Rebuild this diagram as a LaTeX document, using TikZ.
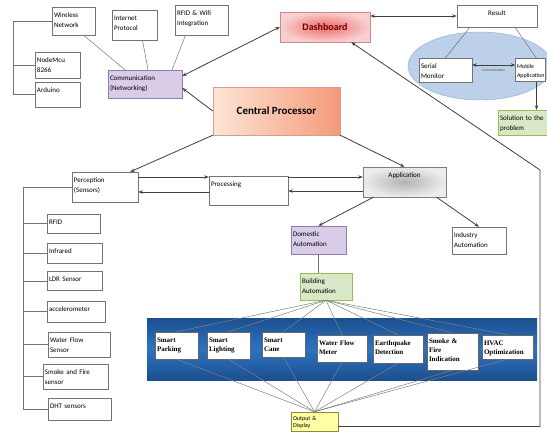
\documentclass[tikz,border=0pt]{standalone}
\usepackage{fontspec}
\setmainfont{Carlito}
\newfontfamily\tilefont{Liberation Serif}
\usetikzlibrary{arrows.meta,calc}
\definecolor{npurple}{HTML}{D9CCE9}
\definecolor{npurpleB}{HTML}{8E7CB0}
\definecolor{ngreen}{HTML}{D7E9C6}
\definecolor{ngreenB}{HTML}{9BBB59}
\definecolor{npink}{HTML}{F9CFCF}
\definecolor{nred}{HTML}{EE6A6A}
\definecolor{nredB}{HTML}{C98A8A}
\definecolor{ncpuA}{HTML}{FDE5D6}
\definecolor{ncpuB}{HTML}{F59A7A}
\definecolor{ncpuC}{HTML}{D0A090}
\definecolor{nellipse}{HTML}{BCD0EA}
\definecolor{nellipseB}{HTML}{8CA8D4}
\definecolor{nyellow}{HTML}{FFFFA6}
\definecolor{nyellowB}{HTML}{8A8A3A}
\definecolor{bandA}{HTML}{1C4F8E}
\definecolor{bandB}{HTML}{2D73C2}

\begin{document}
\begin{tikzpicture}[x=1pt,y=-1pt,
  box/.style={draw=black!55, fill=white, inner sep=2pt, align=left, font=\fontsize{7}{10}\selectfont},
  sz/.style 2 args={text width=#1pt-4pt, text height=8pt, text depth=#2pt-12pt},
  tile/.style={box, draw=black!60, font=\tilefont\bfseries\fontsize{7}{9}\selectfont},
  bigbox/.style={draw=#1, inner sep=2pt, align=center},
  arr/.style={draw=black!75, line width=0.8pt, -{Stealth[length=1.6mm]}},
  twoarr/.style={arr, {Stealth[length=1.6mm]}-{Stealth[length=1.6mm]}},
  link/.style={draw=black!55, line width=0.5pt},
  fan/.style={draw=black!50, line width=0.5pt}]
 \useasboundingbox (0,0) rectangle (547,432);
 \clip (0,0) rectangle (547,432);
 \fill[white] (0,0) rectangle (547,432);

 % networking
 \node[box, sz={43}{28}] (wnet) at (73.5,21) {Wireless\\Network};
 \node[box, sz={45}{30}] (ip) at (134.5,25) {Internet\\Protocol};
 \node[box, sz={53}{30}] (rfw) at (201.5,20) {RFID \& Wifi\\Integration};
 \node[box, sz={45}{26}] (mcu) at (57.5,65) {NodeMcu\\8266};
 \node[box, sz={45}{25}] (ard) at (57.5,94.5) {Arduino};
 \node[box, sz={74}{28}, fill=npurple, draw=npurpleB] (comm) at (145,84) {Communication\\(Networking)};
 \coordinate (lbus) at (13,0);
 \draw[link] (wnet.west) -- (wnet.west -| lbus) -- (ard.west -| lbus) -- (ard.west);
 \draw[link] (mcu.west) -- (mcu.west -| lbus);
 \draw[link] ([xshift=10pt]wnet.south) -- ([xshift=-20pt]comm.north);
 \draw[link] ([xshift=8pt]ip.south) -- ([xshift=3pt]comm.north);
 \draw[link] ([xshift=-16pt]rfw.south) -- ([xshift=27pt]comm.north);

 % dashboard and result
 \node[bigbox=nredB, inner color=nred, outer color=npink, minimum width=90pt, minimum height=30pt,
   font=\bfseries\fontsize{10}{12}\selectfont, text=red!45!black] (dash) at (325,27) {Dashboard};
 \node[box, sz={80}{22}, align=center] (res) at (497,16) {Result};
 \fill[nellipse, draw=nellipseB] (480,66) ellipse [x radius=72, y radius=34];
 \node[box, sz={53}{24}] (ser) at (445.5,70) {Serial\\Monitor};
 \node[box, sz={31}{24}, inner sep=1.5pt, font=\fontsize{6}{9}\selectfont] (mob) at (530.5,70) {Mobile\\Application};
 \node[box, sz={62}{25}, fill=ngreen, draw=ngreenB] (sol) at (529,122.5) {Solution to the\\problem};
 \draw[twoarr] (res.west -| dash.east) -- (res.west);
 \draw[link] ([xshift=-27pt]res.south) -- (ser.north);
 \draw[link] ([xshift=18pt]res.south) -- ([xshift=6pt]mob.north);
 \draw[twoarr, line width=0.6pt] ([yshift=5pt]ser.east) -- ([yshift=5pt]mob.west)
   node[midway, below, font=\fontsize{3.5}{4}\selectfont, text=black!70] {Communication};
 \draw[arr] ([xshift=6pt]mob.south) -- ([xshift=6pt]mob.south |- sol.north);

 % central processor
 \node[bigbox=ncpuC, left color=ncpuA, right color=ncpuB, minimum width=127pt, minimum height=48pt,
   font=\bfseries\fontsize{11}{13}\selectfont] (cpu) at (276.5,111) {Central Processor};
 \draw[twoarr] ([yshift=8pt]comm.east) -- (dash.west);
 \draw[arr] (cpu.west) -- ([yshift=-4pt]comm.east);

 % perception, processing, application
 \node[box, sz={66}{30}] (perc) at (105,187) {Perception\\(Sensors)};
 \node[box, sz={79}{29}] (proc) at (248.5,190.5) {Processing};
 \node[box, sz={83}{30}, align=center, draw=black!50, inner color=gray!60, outer color=gray!15] (app) at (404.5,182) {Application};
 \draw[arr] (cpu.south west) -- ([xshift=-8pt]perc.north east);
 \draw[arr] (cpu.south east) -- (app.north);
 \draw[arr] ([yshift=10pt]perc.east) -- ([yshift=10pt]perc.east -| proc.west);
 \draw[arr] ([yshift=-5pt]perc.east -| proc.west) -- ([yshift=-5pt]perc.east);
 \draw[arr] ([yshift=5pt]app.west -| proc.east) -- ([yshift=5pt]app.west);
 \draw[arr] ([yshift=-9pt]app.west) -- ([yshift=-9pt]app.west -| proc.east);

 % sensors
 \node[box, sz={53}{19}] (rfid) at (73.5,223.5) {RFID};
 \node[box, sz={55}{20}] (infra) at (74.5,253) {Infrared};
 \node[box, sz={55}{19}] (ldr) at (74.5,281) {LDR Sensor};
 \node[box, sz={58}{21}] (acc) at (76,311.5) {accelerometer};
 \node[box, sz={62}{25}] (wfs) at (79,344.5) {Water Flow\\Sensor};
 \node[box, sz={65}{25}] (sfs) at (75.5,376.5) {Smoke and Fire\\sensor};
 \node[box, sz={63}{22}] (dht) at (79.5,409) {DHT sensors};
 \coordinate (sbus) at (23,0);
 \draw[link] (perc.west) -- (perc.west -| sbus) -- (dht.west -| sbus);
 \foreach \s in {rfid,infra,ldr,acc,wfs,sfs,dht}
   \draw[link] (\s.west) -- (\s.west -| sbus);

 % automation
 \node[box, sz={55}{28}, fill=npurple, draw=npurpleB] (dom) at (318.5,240) {Domestic\\Automation};
 \node[box, sz={54}{27}] (ind) at (479,240.5) {Industry\\Automation};
 \node[box, sz={52}{27}, fill=ngreen, draw=ngreenB] (bld) at (326,286.5) {Building\\Automation};
 \draw[arr] ([xshift=-31pt]app.south) -- (dom.north);
 \draw[arr] ([xshift=32pt]app.south) -- (ind.north);
 \draw[link] (dom.south) -- (dom.south |- bld.north);

 % building services
 \shade[top color=bandA, bottom color=bandA, middle color=bandB] (147,318) rectangle (537,380);
 \node[tile, sz={43}{27}] (park) at (176.5,345.5) {Smart\\Parking};
 \node[tile, sz={43}{27}] (light) at (228.5,345.5) {Smart\\Lighting};
 \node[tile, sz={43}{25}] (cane) at (283.5,344.5) {Smart\\Cane};
 \node[tile, sz={50}{27}] (water) at (342,348.5) {Water Flow\\Meter};
 \node[tile, sz={50}{28}] (quake) at (398,349) {Earthquake\\Detection};
 \node[tile, sz={51}{37}] (smoke) at (452.5,351.5) {Smoke \&\\Fire\\Indication};
 \node[tile, sz={51}{24}] (hvac) at (507.5,347) {HVAC\\Optimization};
 \node[box, text width=43pt, text height=6pt, text depth=9pt, font=\fontsize{6}{7}\selectfont,
   fill=nyellow, draw=nyellowB] (out) at (314.5,421.5) {Output \&\\Display};
 \foreach \t in {park,light,cane,water,quake,smoke,hvac}{
   \draw[fan] (bld.south) -- (\t.north);
   \draw[fan] (\t.south) -- (out.north);
 }
 \coordinate (fbk) at (540,170);
 \draw[arr] ([yshift=-5pt]out.east) -| (fbk) -- ([xshift=-19pt]dash.south east);
\end{tikzpicture}
\end{document}
